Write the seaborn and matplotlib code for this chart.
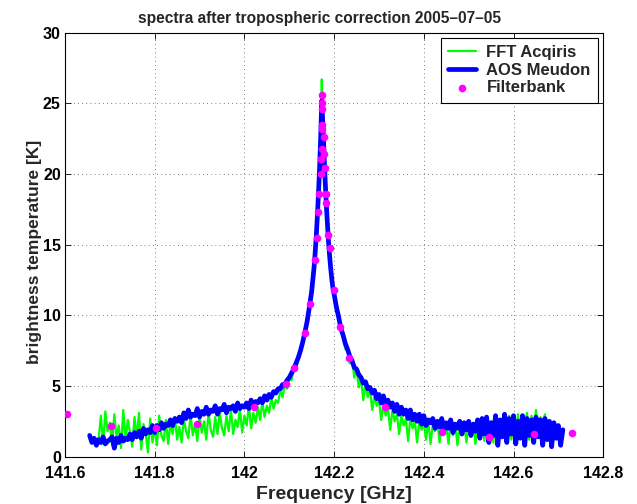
import numpy as np
import pandas as pd
import seaborn as sns
import matplotlib
matplotlib.use("Agg")
import matplotlib.pyplot as plt

# ---- data ----
# FFT Acqiris: left wing (141.675..142.15, step 5 MHz), peak (142.1525..142.1975, step 2.5 MHz),
# right wing (142.20..142.68, step 5 MHz)
fft_left = [1.2, 2.9, 0.9, 3.2, 1.8, 2.4, 0.8, 3.0, 1.4, 2.2,
            0.6, 3.3, 1.1, 2.6, 1.7, 0.7, 2.8, 1.3, 3.1, 0.5,
            2.3, 1.6, 0.3, 2.7, 1.0, 2.0, 0.8, 2.9, 1.5, 1.1,
            2.6, 0.9, 2.4, 1.6, 2.8, 1.2, 2.1, 1.0, 2.7, 1.8,
            1.3, 3.0, 1.5, 2.3, 1.1, 2.9, 1.7, 2.5, 1.2, 3.1,
            1.9, 1.4, 2.8, 1.6, 3.2, 2.0, 1.5, 2.9, 1.8, 3.3,
            1.6, 2.6, 2.1, 3.4, 1.7, 2.9, 2.2, 3.6, 2.0, 3.1,
            2.4, 3.5, 2.6, 3.9, 2.8, 3.6, 3.1, 4.2, 3.4, 4.0,
            3.8, 4.7, 4.2, 5.1, 4.8, 5.5, 5.4, 6.2, 6.1, 6.9,
            7.3, 8.0, 8.6, 9.4, 10.3, 11.6]
fft_peak = [12.6, 13.4, 14.4, 15.6, 17.0, 18.6, 20.6, 23.0, 26.7, 24.0, 21.8, 19.8, 18.0,
            16.6, 15.3, 14.3, 13.4, 12.6, 11.9]
fft_right = [11.4, 10.3, 9.7, 8.8, 8.5, 7.6, 7.5, 6.6, 6.9, 5.6,
             6.2, 4.9, 5.6, 4.0, 5.1, 4.2, 4.8, 3.3, 4.3, 3.6,
             4.0, 2.6, 3.7, 2.9, 3.5, 1.9, 3.3, 2.5, 3.0, 1.6,
             2.9, 2.2, 2.7, 1.1, 2.8, 2.0, 2.5, 1.0, 2.6, 1.9,
             2.4, 1.2, 2.5, 0.9, 2.3, 1.8, 2.6, 1.0, 2.4, 1.6,
             2.2, 0.9, 2.5, 1.5, 2.3, 0.8, 2.1, 1.7, 2.4, 1.0,
             2.2, 1.4, 2.3, 0.9, 2.5, 1.6, 2.4, 1.1, 2.6, 1.8,
             2.5, 1.0, 2.7, 1.5, 2.6, 1.3, 2.8, 1.9, 2.9, 1.2,
             2.7, 1.6, 3.0, 1.3, 2.8, 2.0, 3.1, 1.2, 2.9, 1.7,
             3.3, 1.4, 2.8, 1.9, 3.0, 1.5, 2.4]

# AOS Meudon: left wing (141.655..142.15), peak (142.1525..142.1975), right wing (142.20..142.71)
aos_left = [1.5, 1.0, 1.3, 0.8, 1.2, 1.0, 1.4, 0.9, 1.1, 1.2,
            1.4, 0.6, 1.3, 1.0, 1.5, 1.1, 1.3, 1.2, 1.6, 1.2,
            1.7, 1.4, 1.8, 1.3, 2.0, 1.6, 1.9, 1.7, 2.2, 1.7,
            2.2, 1.9, 2.4, 2.0, 2.3, 2.2, 2.6, 2.2, 2.7, 2.5,
            2.8, 2.4, 3.1, 2.7, 3.3, 2.8, 3.0, 2.9, 3.4, 2.8,
            3.2, 3.0, 3.5, 3.0, 3.3, 3.2, 3.6, 3.0, 3.4, 3.3,
            3.7, 3.1, 3.5, 3.4, 3.6, 3.2, 3.8, 3.4, 3.6, 3.5,
            3.8, 3.4, 4.0, 3.6, 3.9, 3.8, 4.1, 3.8, 4.3, 4.0,
            4.4, 4.2, 4.6, 4.5, 4.8, 4.8, 5.1, 5.1, 5.4, 5.6,
            5.9, 6.2, 6.6, 7.0, 7.5, 8.1, 8.8, 9.6, 10.6, 11.7]
aos_peak = [12.5, 13.3, 14.3, 15.5, 16.9, 18.5, 20.3, 22.5, 25.2, 23.5, 21.5, 19.6, 17.9,
            16.5, 15.2, 14.2, 13.3, 12.5, 11.9]
aos_right = [11.5, 10.6, 9.9, 9.1, 8.6, 8.0, 7.6, 7.1, 6.8, 6.3,
             6.2, 5.8, 5.6, 5.2, 5.3, 4.8, 4.9, 4.5, 4.7, 4.1,
             4.4, 3.8, 4.3, 3.6, 4.0, 3.5, 3.8, 3.2, 3.7, 3.0,
             3.5, 3.0, 3.3, 2.7, 3.3, 2.6, 3.0, 2.5, 3.0, 2.3,
             2.9, 2.2, 2.6, 2.4, 2.7, 2.0, 2.5, 2.1, 2.7, 1.9,
             2.4, 2.0, 2.6, 1.7, 2.3, 2.0, 2.5, 1.6, 2.4, 1.9,
             2.5, 1.5, 2.3, 1.8, 2.6, 1.3, 2.7, 1.6, 2.8, 1.0,
             2.4, 1.5, 2.9, 0.8, 2.6, 1.4, 3.0, 1.0, 2.7, 1.6,
             2.9, 0.9, 2.5, 1.3, 2.9, 0.8, 2.7, 1.5, 2.6, 1.0,
             2.8, 1.4, 2.6, 0.8, 2.7, 1.2, 2.5, 0.7, 2.4, 1.3,
             2.2, 0.8, 1.9]

# Filterbank channels
fb_freq = [141.604, 141.703, 141.804, 141.894, 142.022, 142.093, 142.111, 142.134, 142.147,
           142.158, 142.161, 142.165, 142.167, 142.170, 142.171, 142.172, 142.177, 142.172,
           142.172, 142.172, 142.172, 142.172, 142.178, 142.179, 142.182, 142.183, 142.187,
           142.190, 142.200, 142.213, 142.234, 142.314, 142.441, 142.545, 142.645, 142.730]
fb_temp = [3.0, 2.2, 2.0, 2.3, 3.5, 5.15, 6.3, 8.75, 10.8, 13.9, 15.5, 17.3, 18.6, 20.0,
           21.1, 21.8, 22.6, 23.2, 23.5, 24.6, 25.0, 25.6, 21.4, 20.4, 18.6, 17.95, 15.7,
           14.8, 11.8, 9.2, 7.0, 3.5, 1.75, 1.4, 1.6, 1.7]

# frequency sampling of the two spectrometers
fft_freq = np.concatenate([141.675 + 0.005 * np.arange(len(fft_left)),
                           142.1525 + 0.0025 * np.arange(len(fft_peak)),
                           142.20 + 0.005 * np.arange(len(fft_right))])
aos_freq = np.concatenate([141.655 + 0.005 * np.arange(len(aos_left)),
                           142.1525 + 0.0025 * np.arange(len(aos_peak)),
                           142.20 + 0.005 * np.arange(len(aos_right))])

fft = pd.DataFrame({"freq": fft_freq, "T": fft_left + fft_peak + fft_right})
aos = pd.DataFrame({"freq": aos_freq, "T": aos_left + aos_peak + aos_right})
fb = pd.DataFrame({"freq": fb_freq, "T": fb_temp})

# ---- plot ----
sns.set_theme(style="ticks")
plt.rcParams["font.family"] = ["Liberation Sans", "DejaVu Sans"]
plt.rcParams["font.weight"] = "bold"

fig = plt.figure(figsize=(6.37, 5.04), dpi=100)
ax = fig.add_axes([0.102, 0.094, 0.845, 0.841])

sns.lineplot(data=fft, x="freq", y="T", color="#00ff00", lw=1.6, sort=False,
             estimator=None, ax=ax, label="FFT Acqiris")
sns.lineplot(data=aos, x="freq", y="T", color="#0000ff", lw=3.4, sort=False,
             estimator=None, ax=ax, label="AOS Meudon")
sns.scatterplot(data=fb, x="freq", y="T", color="#ff00ff", s=30, linewidth=0,
                ax=ax, label="Filterbank", zorder=5)

ax.set_xlim(141.6, 142.8)
ax.set_ylim(0, 30)
ax.set_xticks([141.6, 141.8, 142.0, 142.2, 142.4, 142.6, 142.8])
ax.set_xticklabels(["141.6", "141.8", "142", "142.2", "142.4", "142.6", "142.8"])
ax.set_yticks([0, 5, 10, 15, 20, 25, 30])
ax.tick_params(direction="in", length=4, width=0.6, top=True, right=True,
               labelsize=11.5, colors="black")
ax.tick_params(axis="x", pad=7)
ax.tick_params(axis="y", pad=3)
for lab in ax.get_xticklabels() + ax.get_yticklabels():
    lab.set_fontweight("bold")
ax.grid(True, linestyle=(0, (1, 4)), color="#555555", linewidth=0.6)
for sp in ax.spines.values():
    sp.set_linewidth(0.8)
    sp.set_color("black")

ax.set_xlabel("Frequency [GHz]", fontsize=14, fontweight="bold", labelpad=3)
ax.set_ylabel("brightness temperature [K]", fontsize=12.5, fontweight="bold")
ax.yaxis.set_label_coords(-0.043, 0.482)
ax.set_title("spectra after tropospheric correction 2005\u201307\u201305", fontsize=11.2,
             fontweight="bold", pad=7, x=0.473)

leg = ax.legend(loc="upper right", fontsize=12, frameon=True, fancybox=False,
                edgecolor="black", framealpha=1, handlelength=1.7, borderaxespad=0.3,
                labelspacing=0.15, borderpad=0.45, handletextpad=0.6)
leg.get_frame().set_linewidth(0.8)
for t in leg.get_texts():
    t.set_fontweight("bold")

fig.savefig("out.png", dpi=100)
